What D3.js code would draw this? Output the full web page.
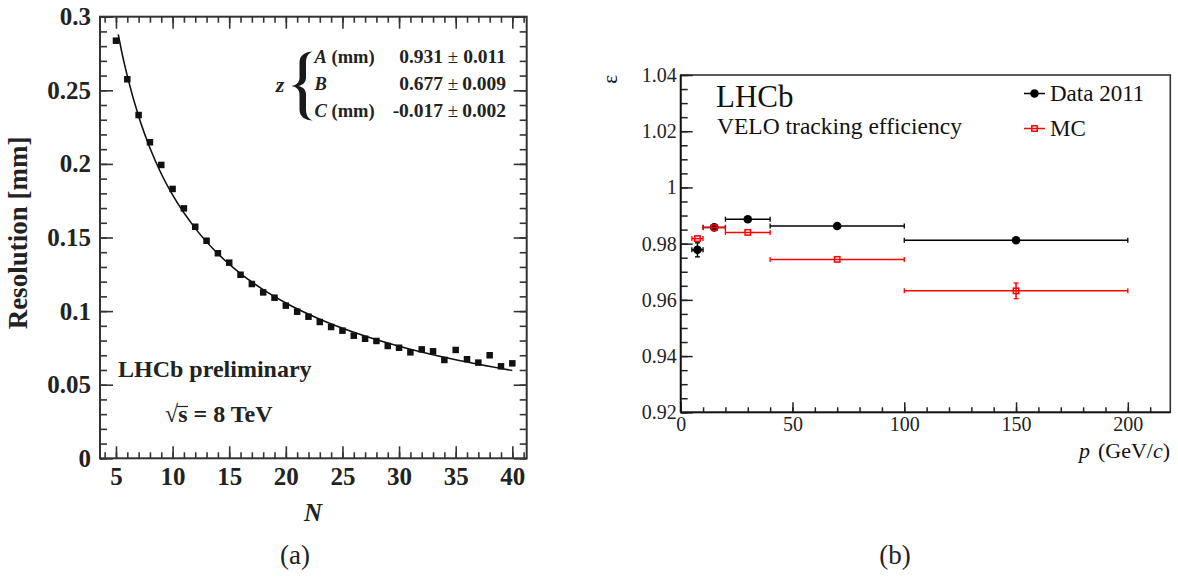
<!DOCTYPE html>
<html>
<head>
<meta charset="utf-8">
<script src="https://cdn.jsdelivr.net/npm/d3@7"></script>
<style>
  html, body { margin: 0; padding: 0; background: #fff; }
  svg { display: block; }
</style>
</head>
<body>
<svg id="chart" width="1178" height="580"></svg>
<script>
// ---------------- Data: panel (a) ----------------
const resN = [5,6,7,8,9,10,11,12,13,14,15,16,17,18,19,20,21,22,23,24,25,26,27,28,29,30,31,32,33,34,35,36,37,38,39,40];
const resVal = [0.2837,0.2575,0.2332,0.2147,0.1993,0.1830,0.1698,0.1573,0.1478,0.1393,0.1329,0.1247,
                0.1184,0.1127,0.1091,0.1037,0.0996,0.0962,0.0926,0.0892,0.0867,0.0833,0.0812,0.0797,
                0.0763,0.0751,0.0720,0.0740,0.0727,0.0668,0.0736,0.0673,0.0650,0.0700,0.0625,0.0645];
const fitN   = [5.2,5.5,6,7,8,9,10,12,14,16,18,20,23,26,30,35,40];
const fitVal = [0.288,0.2765,0.2598,0.2323,0.2108,0.1933,0.1789,0.1562,0.1390,0.1255,0.1146,0.1055,0.0945,0.0856,0.0761,0.0669,0.0596];
const fitNames  = ["A", "B", "C"];
const fitUnits  = [" (mm)", "", " (mm)"];
const fitValues = ["0.931", "0.677", "-0.017"];
const fitErrors = ["0.011", "0.009", "0.002"];
const aYTicks = [0, 0.05, 0.1, 0.15, 0.2, 0.25, 0.3];
const aXTicks = [5, 10, 15, 20, 25, 30, 35, 40];

// ---------------- Data: panel (b) ----------------
const pCenter = [7.5, 15, 30, 70, 150];
const pLow    = [5, 10, 20, 40, 100];
const pHigh   = [10, 20, 40, 100, 200];
const dataEff = [0.9778, 0.9858, 0.9887, 0.9863, 0.9812];
const dataErr = [0.0025, 0.0004, 0.0004, 0.0003, 0.0006];
const mcEff   = [0.9818, 0.9857, 0.9840, 0.9744, 0.9632];
const mcErr   = [0.0008, 0.0005, 0.0004, 0.0004, 0.0028];
const seriesNames = ["Data 2011", "MC"];
const bYTicks = [0.92, 0.94, 0.96, 0.98, 1, 1.02, 1.04];
const bXTicks = [0, 50, 100, 150, 200];

const svg = d3.select("#chart");
const serif = "'Liberation Serif', 'Times New Roman', serif";

// =============== Panel (a) ===============
const A = { left: 100, right: 526.7, top: 16.7, bottom: 458.3 };
const xa = d3.scaleLinear().domain([3.59, 41.27]).range([A.left, A.right]);
const ya = d3.scaleLinear().domain([0, 0.3]).range([A.bottom, A.top]);
const ga = svg.append("g");

const aMinorY = d3.range(0, 31).map(i => +(i * 0.01).toFixed(3));
const aMinorX = d3.range(4, 42, 1).filter(v => v <= 41.27);

function styleAxis(g, color, width) {
  g.select(".domain").remove();
  g.selectAll(".tick line").attr("stroke", color).attr("stroke-width", width);
}
// major / minor ticks (inward, all four sides)
[[d3.axisLeft, A.left], [d3.axisRight, A.right]].forEach(([ax, xpos]) => {
  const gM = ga.append("g").attr("transform", `translate(${xpos},0)`)
    .call(ax(ya).tickValues(aMinorY).tickSize(-7).tickFormat(""));
  styleAxis(gM, "#333", 1.6);
  const gJ = ga.append("g").attr("transform", `translate(${xpos},0)`)
    .call(ax(ya).tickValues(aYTicks).tickSize(-13).tickFormat(""));
  styleAxis(gJ, "#333", 1.6);
});
[[d3.axisBottom, A.bottom], [d3.axisTop, A.top]].forEach(([ax, ypos]) => {
  const gM = ga.append("g").attr("transform", `translate(0,${ypos})`)
    .call(ax(xa).tickValues(aMinorX).tickSize(-6).tickFormat(""));
  styleAxis(gM, "#333", 1.6);
  const gJ = ga.append("g").attr("transform", `translate(0,${ypos})`)
    .call(ax(xa).tickValues(aXTicks).tickSize(-12).tickFormat(""));
  styleAxis(gJ, "#333", 1.6);
});
// labels
ga.append("g").attr("transform", `translate(${A.left},0)`)
  .call(d3.axisLeft(ya).tickValues(aYTicks).tickSize(0).tickPadding(9).tickFormat(d3.format("")))
  .call(g => g.select(".domain").remove())
  .selectAll("text").attr("font-family", serif).attr("font-weight", "bold")
  .attr("font-size", 25).attr("fill", "#222");
ga.append("g").attr("transform", `translate(0,${A.bottom})`)
  .call(d3.axisBottom(xa).tickValues(aXTicks).tickSize(0).tickPadding(9).tickFormat(d3.format("")))
  .call(g => g.select(".domain").remove())
  .selectAll("text").attr("font-family", serif).attr("font-weight", "bold")
  .attr("font-size", 25).attr("fill", "#222");
// frame
ga.append("rect").attr("x", A.left).attr("y", A.top)
  .attr("width", A.right - A.left).attr("height", A.bottom - A.top)
  .attr("fill", "none").attr("stroke", "#333").attr("stroke-width", 2);

// fit curve
ga.append("path")
  .datum(fitN.map((n, i) => [n, fitVal[i]]))
  .attr("d", d3.line().x(d => xa(d[0])).y(d => ya(d[1])).curve(d3.curveMonotoneX))
  .attr("fill", "none").attr("stroke", "#111").attr("stroke-width", 1.6);
// points
const sq = 6.5;
ga.selectAll("rect.pt").data(resN.map((n, i) => [n, resVal[i]])).join("rect")
  .attr("class", "pt")
  .attr("x", d => xa(d[0]) - sq / 2).attr("y", d => ya(d[1]) - sq / 2)
  .attr("width", sq).attr("height", sq).attr("fill", "#111");

// axis titles
ga.append("text").attr("transform", "translate(27,233) rotate(-90)")
  .attr("text-anchor", "middle").attr("font-family", serif).attr("font-weight", "bold")
  .attr("font-size", 27).attr("fill", "#222").text("Resolution [mm]");
ga.append("text").attr("x", 313).attr("y", 521).attr("text-anchor", "middle")
  .attr("font-family", serif).attr("font-weight", "bold").attr("font-style", "italic")
  .attr("font-size", 25).attr("fill", "#222").text("N");

// LHCb preliminary
ga.append("text").attr("x", 118).attr("y", 377).attr("font-family", serif)
  .attr("font-weight", "bold").attr("font-size", 24).attr("fill", "#222").text("LHCb preliminary");
const sq8 = ga.append("text").attr("x", 165).attr("y", 422).attr("font-family", serif)
  .attr("font-weight", "bold").attr("font-size", 24).attr("fill", "#222");
sq8.append("tspan").attr("font-weight", "normal").text("√");
const sTs = sq8.append("tspan").text("s");
sq8.append("tspan").text(" = 8 TeV");
{
  const sStart = sTs.node().getStartPositionOfChar(0).x;
  const sEnd = sTs.node().getEndPositionOfChar(0).x;
  ga.append("line").attr("x1", sStart - 1).attr("x2", sEnd + 0.5)
    .attr("y1", 406.5).attr("y2", 406.5).attr("stroke", "#222").attr("stroke-width", 1.2);
}

// fit parameter box
ga.append("text").attr("x", 280).attr("y", 92).attr("text-anchor", "middle")
  .attr("font-family", serif).attr("font-weight", "bold").attr("font-style", "italic")
  .attr("font-size", 22).attr("fill", "#222").text("z");
ga.append("path")
  .attr("d", "M313,51.5 C305,51.5 299.5,55.5 299.5,62.5 L299.5,77.5 C299.5,82 297,85 291.5,86 C297,87 299.5,90 299.5,94.5 L299.5,109.5 C299.5,116.5 305,120.5 313,120.5 C309,119.5 306,116 306,109.5 L306,94.5 C306,90 303.5,87.3 298.5,86 C303.5,84.7 306,82 306,77.5 L306,62.5 C306,56 309,52.5 313,51.5 Z")
  .attr("fill", "#1a1a1a");
const rowY = [63.3, 90, 116.7];
fitNames.forEach((nm, i) => {
  const t = ga.append("text").attr("x", 314.5).attr("y", rowY[i]).attr("font-family", serif)
    .attr("font-weight", "bold").attr("font-size", 18.5).attr("fill", "#222");
  t.append("tspan").attr("font-style", "italic").text(nm);
  t.append("tspan").text(fitUnits[i]);
  ga.append("text").attr("x", 443).attr("y", rowY[i]).attr("text-anchor", "end")
    .attr("font-family", serif).attr("font-weight", "bold").attr("font-size", 19.5)
    .attr("fill", "#222").text(fitValues[i]);
  ga.append("text").attr("x", 453).attr("y", rowY[i]).attr("text-anchor", "middle")
    .attr("font-family", serif).attr("font-size", 19).attr("fill", "#222").text("±");
  ga.append("text").attr("x", 506).attr("y", rowY[i]).attr("text-anchor", "end")
    .attr("font-family", serif).attr("font-weight", "bold").attr("font-size", 19.5)
    .attr("fill", "#222").text(fitErrors[i]);
});

svg.append("text").attr("x", 295).attr("y", 564).attr("text-anchor", "middle")
  .attr("font-family", serif).attr("font-size", 27).attr("fill", "#222").text("(a)");

// =============== Panel (b) ===============
const B = { left: 680.7, right: 1170.3, top: 75, bottom: 412.3 };
const xb = d3.scaleLinear().domain([0, 219]).range([B.left, B.right]);
const yb = d3.scaleLinear().domain([0.92, 1.04]).range([B.bottom, B.top]);
const gb = svg.append("g");

const bMinorY = d3.range(0, 25).map(i => +(0.92 + i * 0.005).toFixed(3));
const bMinorX = d3.range(0, 22).map(i => i * 10);

// frame
gb.append("rect").attr("x", B.left).attr("y", B.top)
  .attr("width", B.right - B.left).attr("height", B.bottom - B.top)
  .attr("fill", "none").attr("stroke", "#333").attr("stroke-width", 1.6);

const gbYm = gb.append("g").attr("transform", `translate(${B.left},0)`)
  .call(d3.axisLeft(yb).tickValues(bMinorY).tickSize(-7).tickFormat(""));
styleAxis(gbYm, "#222", 1.5);
const gbYM = gb.append("g").attr("transform", `translate(${B.left},0)`)
  .call(d3.axisLeft(yb).tickValues(bYTicks).tickSize(-12).tickPadding(4)
    .tickFormat(d => d3.format("")(d)));
styleAxis(gbYM, "#222", 1.5);
gbYM.selectAll("text").attr("font-family", serif).attr("font-size", 20).attr("fill", "#222");

const gbXm = gb.append("g").attr("transform", `translate(0,${B.bottom})`)
  .call(d3.axisBottom(xb).tickValues(bMinorX).tickSize(-5).tickFormat(""));
styleAxis(gbXm, "#222", 1.5);
const gbXM = gb.append("g").attr("transform", `translate(0,${B.bottom})`)
  .call(d3.axisBottom(xb).tickValues(bXTicks).tickSize(-10).tickPadding(5)
    .tickFormat(d3.format("")));
styleAxis(gbXM, "#222", 1.5);
gbXM.selectAll("text").attr("font-family", serif).attr("font-size", 20).attr("fill", "#222");

gb.append("line").attr("x1", B.left).attr("x2", B.right).attr("y1", B.bottom).attr("y2", B.bottom)
  .attr("stroke", "#111").attr("stroke-width", 1.8);
gb.append("line").attr("x1", B.left).attr("x2", B.left).attr("y1", B.top).attr("y2", B.bottom)
  .attr("stroke", "#111").attr("stroke-width", 1.8);

// error bars
function drawSeries(vals, errs, color, marker) {
  const cap = 2.5;
  const g = gb.append("g");
  pCenter.forEach((p, i) => {
    const cy = yb(vals[i]);
    g.append("line").attr("x1", xb(pLow[i])).attr("x2", xb(pHigh[i]))
      .attr("y1", cy).attr("y2", cy).attr("stroke", color).attr("stroke-width", 1.5);
    [pLow[i], pHigh[i]].forEach(px => g.append("line")
      .attr("x1", xb(px)).attr("x2", xb(px)).attr("y1", cy - cap).attr("y2", cy + cap)
      .attr("stroke", color).attr("stroke-width", 1.3));
    const y1 = yb(vals[i] + errs[i]), y2 = yb(vals[i] - errs[i]);
    if (y2 - y1 > 5) {
      g.append("line").attr("x1", xb(p)).attr("x2", xb(p)).attr("y1", y1).attr("y2", y2)
        .attr("stroke", color).attr("stroke-width", 1.5);
      [y1, y2].forEach(yy => g.append("line").attr("x1", xb(p) - cap).attr("x2", xb(p) + cap)
        .attr("y1", yy).attr("y2", yy).attr("stroke", color).attr("stroke-width", 1.3));
    }
    marker(g, xb(p), cy);
  });
}
const dot = (g, x, y) => g.append("circle").attr("cx", x).attr("cy", y).attr("r", 4.3).attr("fill", "#000");
const box = (g, x, y) => g.append("rect").attr("x", x - 2.7).attr("y", y - 2.7).attr("width", 5.4)
  .attr("height", 5.4).attr("fill", "none").attr("stroke", "#ff0000").attr("stroke-width", 1.5);
drawSeries(dataEff, dataErr, "#000", dot);
drawSeries(mcEff, mcErr, "#ff0000", box);

// texts
gb.append("text").attr("x", 716).attr("y", 107).attr("font-family", serif)
  .attr("font-size", 31).attr("fill", "#111").text("LHCb");
gb.append("text").attr("x", 717).attr("y", 134).attr("font-family", serif)
  .attr("font-size", 23.5).attr("fill", "#111").text("VELO tracking efficiency");

// legend
const legY = [93.5, 128.5];
const legColor = ["#000", "#ff0000"];
const legMarker = [dot, box];
seriesNames.forEach((nm, i) => {
  gb.append("line").attr("x1", 1024).attr("x2", 1045).attr("y1", legY[i]).attr("y2", legY[i])
    .attr("stroke", legColor[i]).attr("stroke-width", 1.5);
  legMarker[i](gb, 1034.5, legY[i]);
  gb.append("text").attr("x", 1050).attr("y", legY[i] + 7.5).attr("font-family", serif)
    .attr("font-size", 23).attr("fill", "#111").text(nm);
});

// axis titles
gb.append("text").attr("transform", "translate(617,75) rotate(-90)").attr("text-anchor", "end")
  .attr("font-family", serif).attr("font-size", 21).attr("fill", "#111").text("ε");
const xt = gb.append("text").attr("x", 1170).attr("y", 458).attr("text-anchor", "end")
  .attr("font-family", serif).attr("font-size", 22).attr("fill", "#111");
xt.append("tspan").attr("font-style", "italic").text("p");
xt.append("tspan").attr("dx", 8).text("(GeV/");
xt.append("tspan").attr("font-style", "italic").text("c");
xt.append("tspan").text(")");

svg.append("text").attr("x", 895).attr("y", 564).attr("text-anchor", "middle")
  .attr("font-family", serif).attr("font-size", 27).attr("fill", "#222").text("(b)");
</script>
</body>
</html>
